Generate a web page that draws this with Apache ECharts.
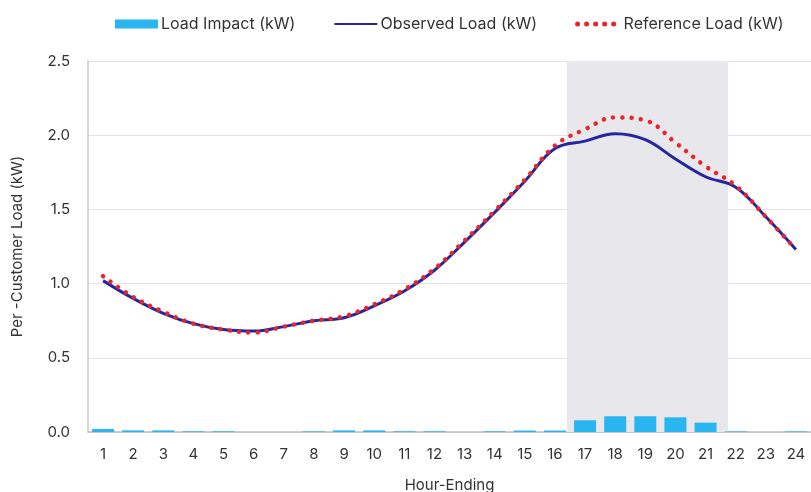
<!DOCTYPE html>
<html>
<head>
<meta charset="utf-8">
<script src="https://cdn.jsdelivr.net/npm/echarts@6/dist/echarts.min.js"></script>
<style>html,body{margin:0;padding:0;background:#fff}#c{width:811px;height:492px}</style>
</head>
<body>
<div id="c"></div>
<script>
const hours = ['1','2','3','4','5','6','7','8','9','10','11','12','13','14','15','16','17','18','19','20','21','22','23','24'];
const loadImpact = [0.02,0.011,0.011,0.005,0.005,0,0,0.004,0.011,0.011,0.005,0.005,0,0.005,0.01,0.01,0.079,0.106,0.106,0.099,0.063,0.004,0,0.004];
const observedLoad = [1.02,0.90,0.80,0.73,0.69,0.68,0.71,0.75,0.77,0.85,0.95,1.09,1.28,1.48,1.69,1.91,1.96,2.01,1.97,1.84,1.72,1.65,1.45,1.23];
const referenceLoad = [1.05,0.91,0.81,0.73,0.69,0.67,0.71,0.75,0.78,0.86,0.96,1.10,1.29,1.49,1.70,1.93,2.04,2.12,2.10,1.95,1.79,1.66,1.45,1.23];
const eventWindow = [16.4, 21.75];
const yTicks = {min: 0, max: 2.5, interval: 0.5};

const FONT = 'Inter';
const chart = echarts.init(document.getElementById('c'));
chart.setOption({
  animation: false,
  textStyle: {fontFamily: FONT},
  legend: {
    left: 110, top: 11,
    itemGap: 38,
    itemWidth: 43, itemHeight: 9,
    textStyle: {fontFamily: FONT, fontSize: 16, color: '#333', padding: [0, 0, 0, -2]},
    data: [
      {name: 'Load Impact (kW)', icon: 'rect', itemStyle: {color: '#29b6f0'}},
      {name: 'Observed Load (kW)', itemStyle: {opacity: 0}},
      {name: 'Reference Load (kW)', itemStyle: {opacity: 0}, lineStyle: {width: 5, type: [0.01, 9]}}
    ]
  },
  grid: {left: 88, right: 0, top: 61, bottom: 60, containLabel: false, outerBoundsMode: 'none'},
  xAxis: [{
    type: 'category',
    data: hours,
    name: 'Hour-Ending',
    nameLocation: 'middle',
    nameGap: 46,
    nameTextStyle: {fontFamily: FONT, fontSize: 15, color: '#333'},
    axisLine: {lineStyle: {color: '#bdbdbd', width: 1.5}},
    axisTick: {show: false},
    axisLabel: {fontFamily: FONT, fontSize: 15, color: '#333', margin: 15, interval: 0}
  }, {
    type: 'value', min: 0.5, max: 24.5, show: false
  }],
  yAxis: {
    type: 'value',
    min: yTicks.min, max: yTicks.max, interval: yTicks.interval,
    name: 'Per -Customer Load (kW)',
    nameLocation: 'middle',
    nameGap: 63,
    nameTextStyle: {fontFamily: FONT, fontSize: 15, color: '#333'},
    axisLine: {show: true, lineStyle: {color: '#c8c8c8', width: 1.5}},
    axisTick: {show: false},
    splitLine: {lineStyle: {color: '#e2e2e2', width: 1}},
    axisLabel: {fontFamily: FONT, fontSize: 15, color: '#333', margin: 18, formatter: v => v.toFixed(1)}
  },
  series: [
    {
      name: 'shade', type: 'line', xAxisIndex: 1, data: [[0.5, 0]],
      symbol: 'none', lineStyle: {opacity: 0}, silent: true, z: 0,
      markArea: {silent: true, itemStyle: {color: '#e8e8ec'}, data: [[{xAxis: eventWindow[0]}, {xAxis: eventWindow[1]}]]}
    },
    {
      name: 'Load Impact (kW)', type: 'bar', data: loadImpact, barWidth: 22,
      itemStyle: {color: '#29b6f0'}, z: 2
    },
    {
      name: 'Observed Load (kW)', type: 'line', data: observedLoad, smooth: 0.4,
      symbol: 'none', itemStyle: {color: '#2626a0'},
      lineStyle: {color: '#2626a0', width: 3}, z: 3
    },
    {
      name: 'Reference Load (kW)', type: 'line', data: referenceLoad, smooth: 0.4,
      symbol: 'none', itemStyle: {color: '#e8262a'},
      lineStyle: {color: '#e8262a', width: 4.5, type: [0.01, 9.3], cap: 'round'}, z: 4
    }
  ]
});
</script>
</body>
</html>
